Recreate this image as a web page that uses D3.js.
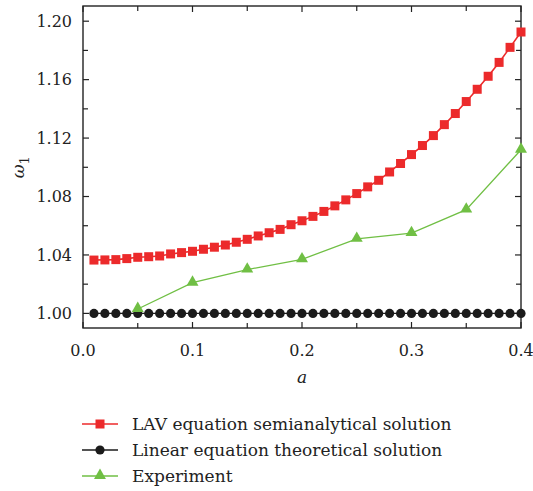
<!DOCTYPE html>
<html>
<head>
<meta charset="utf-8">
<script src="https://cdn.jsdelivr.net/npm/d3@7"></script>
<style>
  body { margin:0; background:#fff; }
</style>
</head>
<body>
<div id="canvas"></div>
<script>
// data
var lavA = d3.range(1, 41).map(function(i){ return i / 100; });
var lavW = [1.0365,1.0366,1.0368,1.0375,1.0384,1.0388,1.0393,1.0407,1.0416,1.0425,
            1.0439,1.0453,1.0468,1.0487,1.0507,1.0530,1.0552,1.0575,1.0607,1.0634,
            1.0664,1.0698,1.0736,1.0777,1.0820,1.0866,1.0911,1.0968,1.1026,1.1087,
            1.1149,1.1217,1.1292,1.1368,1.1450,1.1534,1.1623,1.1718,1.1821,1.1926];
var linA = lavA;
var linW = lavA.map(function(){ return 1.0; });
var expA = [0.05,0.10,0.15,0.20,0.25,0.30,0.35,0.40];
var expW = [1.003,1.021,1.030,1.037,1.051,1.055,1.071,1.112];
var xTicks = [0.0,0.1,0.2,0.3,0.4];
var yTicks = [1.00,1.04,1.08,1.12,1.16,1.20];
var legendNames = ['LAV equation semianalytical solution','Linear equation theoretical solution','Experiment'];

var m = {t:6,r:12,b:163,l:83};
var W = 533, H = 491;
var w = W - m.l - m.r, h = H - m.t - m.b;
var serif = "'DejaVu Serif', serif";

var svg = d3.select('#canvas').append('svg')
    .attr('width',W).attr('height',H)
    .style('font-family', serif);
var plot = svg.append('g')
    .attr('transform','translate(' + m.l + ',' + m.t + ')');

var x = d3.scaleLinear().domain([0,0.4]).range([0,w]);
var y = d3.scaleLinear().domain([0.99,1.2104]).range([h,0]);

var red = '#ec2a2b', black = '#1b1b1b', green = '#70bf44';

// axes, ticks pointing inward, mirrored on all four sides
function tickLines(axis, minorVals, majorVals){
    var g = plot.append('g').attr('class','ticks');
    var vals = minorVals.map(function(v){ return {v:v, major:false}; })
        .concat(majorVals.map(function(v){ return {v:v, major:true}; }));
    vals.forEach(function(d){
        var l = d.major ? 6 : 5;
        if(axis === 'x'){
            g.append('line').attr('x1',x(d.v)).attr('x2',x(d.v)).attr('y1',h).attr('y2',h-l);
            g.append('line').attr('x1',x(d.v)).attr('x2',x(d.v)).attr('y1',0).attr('y2',l);
        } else {
            g.append('line').attr('y1',y(d.v)).attr('y2',y(d.v)).attr('x1',0).attr('x2',l);
            g.append('line').attr('y1',y(d.v)).attr('y2',y(d.v)).attr('x1',w).attr('x2',w-l);
        }
    });
    g.selectAll('line').attr('stroke','#222').attr('stroke-width',1.2);
}
tickLines('x', [0.05,0.15,0.25,0.35], xTicks);
tickLines('y', [1.02,1.06,1.10,1.14,1.18], yTicks);

plot.append('rect')
    .attr('width',w).attr('height',h)
    .attr('fill','none').attr('stroke','#222').attr('stroke-width',1.4);

plot.selectAll('.xlab').data(xTicks).enter().append('text')
    .attr('class','xlab')
    .attr('x',function(d){ return x(d); })
    .attr('y',h + 28)
    .attr('text-anchor','middle')
    .attr('fill','#222')
    .style('font-size','16px')
    .text(function(d){ return d3.format('.1f')(d); });

plot.selectAll('.ylab').data(yTicks).enter().append('text')
    .attr('class','ylab')
    .attr('x',-11)
    .attr('y',function(d){ return y(d); })
    .attr('dy','0.35em')
    .attr('text-anchor','end')
    .attr('fill','#222')
    .style('font-size','16px')
    .text(function(d){ return d3.format('.2f')(d); });

plot.append('text')
    .attr('x',w/2).attr('y',h + 55)
    .attr('text-anchor','middle')
    .attr('fill','#222')
    .style('font-size','17px').style('font-style','italic')
    .text('a');

var yl = svg.append('text')
    .attr('transform','translate(24,' + (m.t + y(1.1)) + ') rotate(-90)')
    .attr('text-anchor','middle')
    .attr('fill','#222')
    .style('font-size','17px');
yl.append('tspan').style('font-style','italic').text('ω');
yl.append('tspan').attr('dy',5).style('font-size','13px').text('1');

// series
var line = d3.line().x(function(d){ return x(d[0]); }).y(function(d){ return y(d[1]); });
var series = [
    {name:legendNames[0], a:lavA, w:lavW, color:red, shape:'square', lw:1.6},
    {name:legendNames[1], a:linA, w:linW, color:black, shape:'circle', lw:1.4},
    {name:legendNames[2], a:expA, w:expW, color:green, shape:'triangle', lw:1.3}
];

function marker(g, s, cx, cy){
    if(s.shape === 'square'){
        g.append('rect').attr('x',cx-4.5).attr('y',cy-4.5).attr('width',9).attr('height',9)
            .attr('fill',s.color);
    } else if(s.shape === 'circle'){
        g.append('circle').attr('cx',cx).attr('cy',cy).attr('r',4.6).attr('fill',s.color);
    } else {
        g.append('path')
            .attr('d',d3.symbol().type(d3.symbolTriangle).size(62)())
            .attr('transform','translate(' + cx + ',' + (cy-0.5) + ')')
            .attr('fill',s.color);
    }
}

[series[1], series[0], series[2]].forEach(function(s){
    var pts = s.a.map(function(a,i){ return [a, s.w[i]]; });
    var g = plot.append('g');
    g.append('path').datum(pts).attr('d',line)
        .attr('fill','none').attr('stroke',s.color).attr('stroke-width',s.lw);
    pts.forEach(function(p){ marker(g, s, x(p[0]), y(p[1])); });
});

// legend
var leg = svg.append('g').attr('transform','translate(82,424)');
series.forEach(function(s,i){
    var g = leg.append('g').attr('transform','translate(0,' + i*26 + ')');
    g.append('line').attr('x1',0).attr('x2',36).attr('stroke',s.color).attr('stroke-width',s.lw);
    marker(g, s, 18, 0);
    g.append('text').attr('x',50).attr('dy','0.35em')
        .attr('fill','#222')
        .style('font-size','17px').text(s.name);
});
</script>
</body>
</html>
